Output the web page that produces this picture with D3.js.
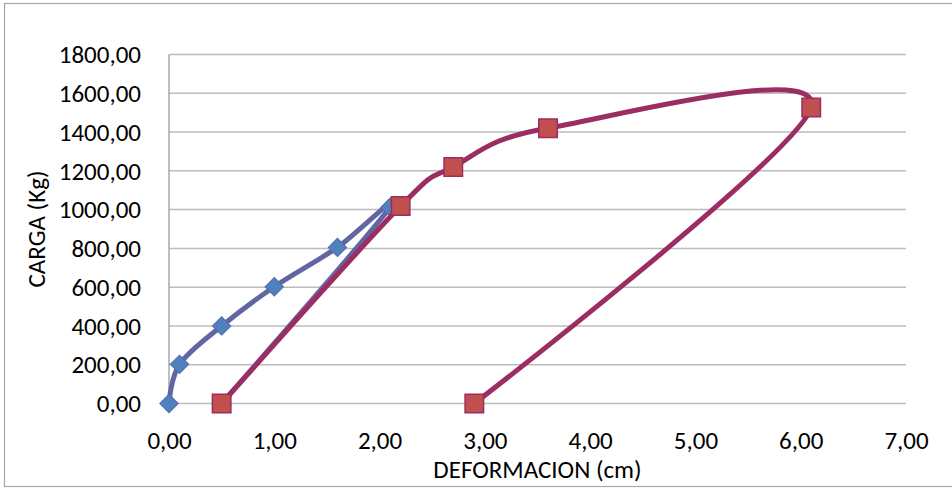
<!DOCTYPE html>
<html>
<head>
<meta charset="utf-8">
<script src="https://cdn.jsdelivr.net/npm/d3@7"></script>
<style>
  body { margin: 0; background: #fff; }
  svg text { font-family: Calibri, Carlito, Lato, sans-serif; fill: #000; }
</style>
</head>
<body>
<script>
// tamaño del lienzo y margenes del area de trazado
var w = 952,
  h = 489;
var margin = { top: 54.5, right: 46, bottom: 85.5, left: 169 };

// datos
var deformacionCarga1 = [0, 0.1, 0.5, 1.0, 1.6, 2.1, 0.5];
var carga1 = [0, 202, 400, 602, 805, 1012, 0];

var deformacionCarga2 = [0.5, 2.2, 2.7, 3.6, 6.1, 2.9];
var carga2 = [0, 1018, 1220, 1420, 1527, 0];

var xTicks = [0, 1, 2, 3, 4, 5, 6, 7];
var yTicks = [0, 200, 400, 600, 800, 1000, 1200, 1400, 1600, 1800];

// formato con coma decimal
var locale = d3.formatLocale({ decimal: ",", thousands: ".", grouping: [3], currency: ["", ""] });
var fmt = locale.format(".2f");

var serie1 = deformacionCarga1.map(function (x, i) { return { x: x, y: carga1[i] }; });
var serie2 = deformacionCarga2.map(function (x, i) { return { x: x, y: carga2[i] }; });

var fontSize = "25px";

var svg = d3.select("body").append("svg").attr("width", w).attr("height", h);

// borde del grafico
svg.append("rect")
  .attr("x", 4.5).attr("y", 3.5)
  .attr("width", 970).attr("height", 483)
  .attr("fill", "none").attr("stroke", "#a6a6a6").attr("stroke-width", 1.2);

var xScale = d3.scaleLinear().domain([0, 7]).range([margin.left, w - margin.right]);
var yScale = d3.scaleLinear().domain([0, 1800]).range([h - margin.bottom, margin.top]);

// lineas de cuadricula horizontales
svg.append("g")
  .selectAll("line")
  .data(yTicks)
  .enter()
  .append("line")
  .attr("x1", xScale(0)).attr("x2", xScale(7))
  .attr("y1", function (d) { return yScale(d); })
  .attr("y2", function (d) { return yScale(d); })
  .attr("stroke", "#bcbcbc").attr("stroke-width", 1.5);

// eje vertical
svg.append("line")
  .attr("x1", xScale(0)).attr("x2", xScale(0))
  .attr("y1", yScale(0)).attr("y2", yScale(1800))
  .attr("stroke", "#a8a8a8").attr("stroke-width", 1.5);

// etiquetas de los ejes
var yAxis = d3.axisLeft(yScale).tickValues(yTicks).tickFormat(fmt).tickSize(0).tickPadding(28);
var gy = svg.append("g").attr("transform", "translate(" + xScale(0) + ",0)").call(yAxis);
gy.select(".domain").remove();
gy.selectAll("text").style("font-size", fontSize).attr("dy", "0.33em");

var xAxis = d3.axisBottom(xScale).tickValues(xTicks).tickFormat(fmt).tickSize(0).tickPadding(28);
var gx = svg.append("g").attr("transform", "translate(0," + yScale(0) + ")").call(xAxis);
gx.select(".domain").remove();
gx.selectAll("text").style("font-size", fontSize);

// titulos
svg.append("text")
  .attr("x", (xScale(0) + xScale(7)) / 2)
  .attr("y", 478)
  .attr("text-anchor", "middle")
  .style("font-size", fontSize)
  .text("DEFORMACION (cm)");

svg.append("text")
  .attr("transform", "translate(45," + (yScale(0) + yScale(1800)) / 2 + ") rotate(-90)")
  .attr("text-anchor", "middle")
  .style("font-size", fontSize)
  .text("CARGA (Kg)");

// generador de lineas suavizadas (tipo Excel)
var line = d3.line()
  .x(function (d) { return xScale(d.x); })
  .y(function (d) { return yScale(d.y); })
  .curve(d3.curveCardinal.tension(0));

// serie 1 (rombos azules)
svg.append("path")
  .attr("d", line(serie1))
  .attr("fill", "none")
  .attr("stroke", "#6165a2")
  .attr("stroke-width", 5)
  .attr("stroke-linejoin", "round");

svg.append("g")
  .selectAll("path")
  .data(serie1)
  .enter()
  .append("path")
  .attr("d", d3.symbol().type(d3.symbolSquare).size(170))
  .attr("transform", function (d) {
    return "translate(" + xScale(d.x) + "," + yScale(d.y) + ") rotate(45)";
  })
  .attr("fill", "#4f81bd")
  .attr("stroke", "#5a6bab")
  .attr("stroke-width", 1);

// serie 2 (cuadrados rojos)
svg.append("path")
  .attr("d", line(serie2))
  .attr("fill", "none")
  .attr("stroke", "#9b2d62")
  .attr("stroke-width", 5)
  .attr("stroke-linejoin", "round");

svg.append("g")
  .selectAll("path")
  .data(serie2)
  .enter()
  .append("path")
  .attr("d", d3.symbol().type(d3.symbolSquare).size(342))
  .attr("transform", function (d) {
    return "translate(" + xScale(d.x) + "," + yScale(d.y) + ")";
  })
  .attr("fill", "#c0504d")
  .attr("stroke", "#9b2d62")
  .attr("stroke-width", 1.5);
</script>
</body>
</html>
